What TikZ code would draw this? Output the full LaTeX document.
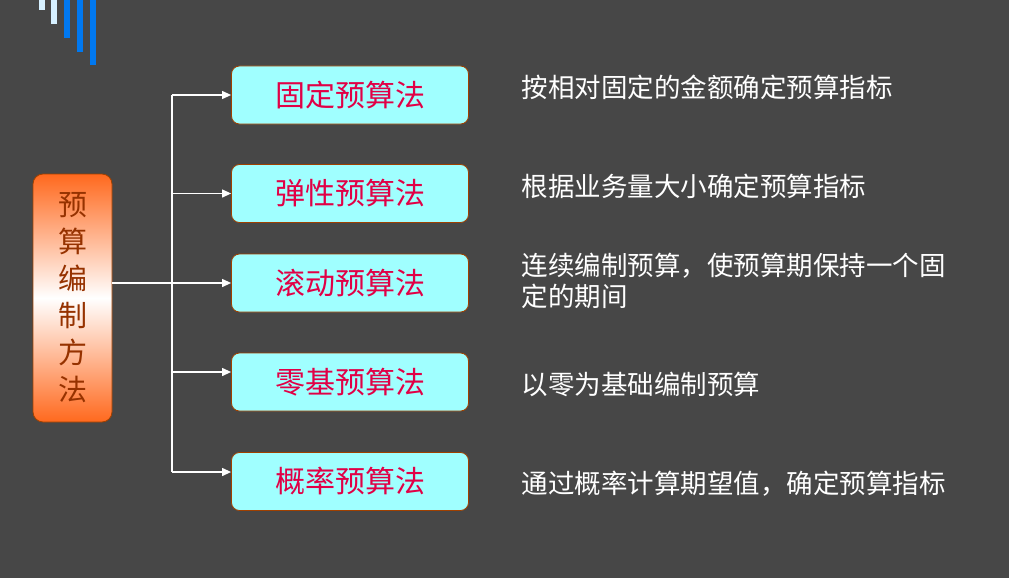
\documentclass[tikz,border=0pt]{standalone}
\usepackage{fontspec}
\usepackage{tikz}
\usetikzlibrary{arrows.meta}
\newfontfamily\cjk{Noto Sans CJK SC}
\definecolor{slide}{RGB}{71,71,71}
\definecolor{cyanbox}{RGB}{160,255,255}
\definecolor{brownline}{RGB}{160,64,0}
\definecolor{methodred}{RGB}{225,0,70}
\definecolor{titlebrown}{RGB}{150,50,0}
\definecolor{orangetop}{RGB}{255,105,30}
\definecolor{barlight}{RGB}{214,240,255}
\definecolor{barblue}{RGB}{0,120,240}
\tikzstyle{method} = [rectangle, rounded corners=8pt, draw=brownline, fill=cyanbox, line width=0.8pt,
  minimum width=237pt, minimum height=58pt, inner sep=0pt, text=methodred, font=\cjk\fontsize{30}{36}\selectfont]
\tikzstyle{title} = [rectangle, rounded corners=10pt, draw=brownline, line width=0.8pt,
  top color=orangetop, bottom color=orangetop, middle color=white, shading=axis,
  minimum width=79pt, minimum height=248pt, inner sep=0pt, align=center, text=titlebrown,
  font=\cjk\fontsize{29}{37}\selectfont]
\tikzstyle{note} = [anchor=west, inner sep=0pt, align=left, text=white, font=\cjk\fontsize{26.5}{31}\selectfont]

\begin{document}
\begin{tikzpicture}[x=1pt,y=-1pt,->,>={Triangle[length=9pt,width=8pt]},white,line width=1.2pt]
  \fill[slide] (0,0) rectangle (1009,578);
  \useasboundingbox (0,0) rectangle (1009,578);
  % corner bars
  \foreach \x/\h/\c in {39/10/barlight,51/24/barlight,64/38/barblue,77/52/barblue,90/65/barblue}
    \fill[\c] (\x,0) rectangle (\x+6,\h);

  \node[title] (T) at (72.5,298) {预\\算\\编\\制\\方\\法};

  \node[method] (M1) at (350,95) {固定预算法};
  \node[method] (M2) at (350,193.5) {弹性预算法};
  \node[method] (M3) at (350,283) {滚动预算法};
  \node[method] (M4) at (350,382) {零基预算法};
  \node[method] (M5) at (350,481.5) {概率预算法};

  \node[note] (N1) at (521,87) {按相对固定的金额确定预算指标};
  \node[note] (N2) at (521,186) {根据业务量大小确定预算指标};
  \node[note] (N3) at (521,280.5) {连续编制预算，使预算期保持一个固\\定的期间};
  \node[note] (N4) at (521,384) {以零为基础编制预算};
  \node[note] (N5) at (521,484) {通过概率计算期望值，确定预算指标};

  \coordinate (J1) at (172,95);
  \coordinate (J2) at (172,193.5);
  \coordinate (J4) at (172,372);
  \coordinate (J5) at (172,472);

  \draw[-] (J1) -- (J5);
  \path (J1) edge (J1 -| M1.west);
  \path (J2) edge (J2 -| M2.west);
  \path (T.east |- M3.west) edge (M3.west);
  \path (J4) edge (J4 -| M4.west);
  \path (J5) edge (J5 -| M5.west);
\end{tikzpicture}
\end{document}
